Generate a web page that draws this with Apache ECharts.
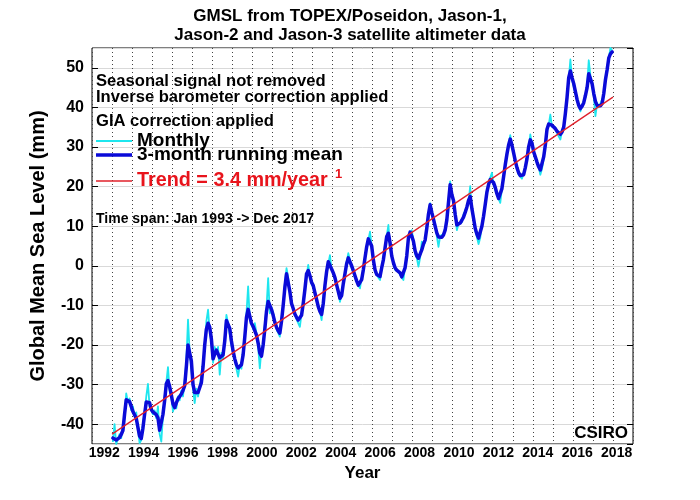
<!DOCTYPE html>
<html>
<head>
<meta charset="utf-8">
<script src="https://cdn.jsdelivr.net/npm/echarts@6/dist/echarts.min.js"></script>
<style>
html,body{margin:0;padding:0;background:#fff;}
#chart{width:700px;height:500px;}
</style>
</head>
<body>
<div id="chart"></div>
<script>
// ---------- data ----------
const dataYears = [1993,1994,1995,1996,1997,1998,1999,2000,2001,2002,2003,2004,2005,
                   2006,2007,2008,2009,2010,2011,2012,2013,2014,2015,2016,2017];

// monthly GMSL (mm), Jan..Dec for each year
const monthlyGMSL = [
 -44.5,-40.0,-45.0,-45.2,-42.5,-43.5,-40.0,-38.5,-32.2,-34.5,-33.5,-36.5,
 -35.5,-38.0,-37.0,-41.0,-44.8,-44.0,-40.0,-37.0,-33.0,-29.8,-35.5,-36.0,
 -37.5,-36.5,-38.5,-35.5,-42.5,-44.4,-38.0,-33.0,-29.5,-25.6,-31.5,-33.0,
 -36.8,-35.0,-36.0,-33.0,-34.0,-31.5,-33.0,-29.0,-24.0,-13.6,-22.0,-26.0,
 -31.0,-34.7,-31.0,-33.0,-30.5,-30.0,-24.5,-20.5,-14.0,-11.1,-16.5,-19.5,
 -24.5,-20.5,-22.0,-20.5,-27.5,-22.0,-23.5,-18.0,-12.4,-14.5,-15.0,-20.0,
 -22.0,-23.0,-26.0,-28.0,-25.0,-26.0,-21.0,-17.5,-12.0,-5.2,-13.5,-13.0,
 -16.0,-14.5,-17.0,-20.5,-25.9,-21.0,-19.5,-15.0,-10.5,-3.1,-12.0,-10.5,
 -12.0,-14.0,-16.0,-16.0,-17.9,-13.5,-10.0,-4.5,-0.6,-3.0,-7.0,-9.0,
 -11.0,-12.0,-13.5,-13.0,-15.4,-12.0,-9.0,-5.5,-2.5,0.2,-2.5,-4.5,
 -5.5,-6.5,-9.0,-10.0,-11.5,-13.7,-9.0,-4.5,-1.0,0.5,2.7,-1.0,
 -2.0,-3.5,-4.5,-6.5,-9.1,-7.0,-4.0,-2.5,1.0,3.2,1.5,-0.5,
 -1.0,-3.0,-3.5,-5.0,-5.7,-3.0,-1.5,2.5,4.5,6.5,8.6,5.0,
 2.0,-1.5,-2.0,-3.0,-3.6,-0.5,2.0,4.0,7.5,10.3,5.0,2.5,
 1.0,-1.0,-0.5,-1.5,-1.5,-3.0,-3.6,0.0,2.0,7.0,8.0,9.0,
 6.5,3.0,2.0,-0.2,2.0,6.1,5.0,6.0,10.0,13.0,15.8,13.0,
 12.0,10.5,7.5,4.8,7.5,7.0,8.0,9.5,11.0,16.5,21.3,17.5,
 16.0,13.5,9.0,10.5,11.0,11.0,13.0,13.0,15.0,16.0,20.1,14.0,
 12.5,9.0,8.5,5.5,7.0,10.5,12.0,16.0,18.0,21.0,21.5,23.5,
 20.5,20.0,18.0,17.5,15.9,19.5,22.0,26.0,28.0,30.5,33.0,30.0,
 29.0,26.0,25.0,23.0,23.0,22.0,23.5,24.5,27.5,29.5,33.2,30.5,
 28.5,27.0,26.5,25.0,23.0,24.5,27.0,31.0,34.0,35.5,38.2,35.0,
 35.5,35.0,33.5,34.0,31.9,34.0,35.0,38.0,43.0,47.0,52.1,47.0,
 46.5,43.5,42.0,40.5,39.0,40.5,41.5,42.5,45.5,51.9,48.0,45.5,
 43.0,37.8,41.0,40.0,41.0,40.5,43.0,47.5,49.0,52.5,55.0,54.5
];

// 3-month running mean (mm), Jan..Dec for each year
const runningMeanGMSL = [
 -43.5,-43.8,-44.0,-44.0,-43.4,-42.6,-41.6,-37.5,-33.8,-33.5,-34.3,-35.5,
 -36.8,-37.2,-38.5,-40.8,-43.0,-43.6,-41.0,-37.5,-34.4,-34.2,-34.6,-36.3,
 -36.9,-37.0,-37.6,-38.4,-41.5,-41.6,-37.5,-34.0,-29.8,-29.0,-30.5,-32.6,
 -34.9,-35.8,-34.6,-33.6,-33.0,-32.4,-31.5,-30.3,-25.5,-20.0,-20.5,-24.0,
 -30.0,-32.0,-32.3,-32.0,-31.5,-29.5,-25.5,-20.0,-16.0,-14.5,-15.5,-18.5,
 -23.5,-22.3,-21.3,-21.8,-23.2,-23.4,-22.5,-19.0,-13.8,-13.5,-15.8,-19.0,
 -21.5,-23.5,-25.0,-25.8,-26.1,-25.0,-22.5,-18.0,-13.0,-11.0,-11.5,-14.5,
 -15.3,-15.5,-17.5,-19.5,-22.0,-22.8,-20.0,-16.0,-11.5,-9.0,-9.5,-11.0,
 -12.5,-14.3,-15.5,-16.4,-17.0,-14.0,-10.0,-5.5,-2.0,-2.5,-6.5,-9.5,
 -10.8,-12.2,-13.0,-13.7,-14.1,-12.5,-9.5,-6.0,-2.0,-1.2,-2.5,-4.2,
 -5.0,-6.8,-8.5,-10.3,-11.5,-12.3,-9.5,-5.0,-1.5,1.0,1.2,-0.8,
 -1.8,-3.0,-4.8,-6.5,-8.2,-7.5,-4.5,-2.0,0.5,2.0,1.6,0.0,
 -1.2,-2.5,-3.8,-4.9,-5.3,-3.5,-1.0,2.0,4.8,6.8,7.0,5.0,
 1.5,-1.0,-2.2,-2.6,-2.7,-0.5,1.5,4.5,7.4,8.2,5.8,2.5,
 0.8,-0.5,-1.1,-1.0,-1.8,-2.8,-3.0,-0.5,2.5,7.0,8.5,7.5,
 6.2,3.8,2.5,1.9,1.6,4.0,5.5,6.5,9.5,13.0,15.4,13.5,
 11.8,10.0,8.3,7.3,6.9,7.2,7.8,9.0,11.6,16.0,20.5,18.0,
 16.5,13.0,10.3,10.2,10.8,11.5,12.3,13.5,14.8,16.5,17.5,14.5,
 12.0,9.5,8.0,7.0,7.5,10.0,12.5,15.5,18.6,20.5,21.8,22.0,
 21.0,19.8,18.2,17.0,17.2,19.5,22.5,25.5,28.2,30.5,32.0,30.5,
 28.5,26.5,24.8,23.5,22.8,22.3,23.0,24.8,27.0,30.0,31.8,31.0,
 28.8,27.5,26.2,25.0,24.2,24.5,27.5,30.5,34.5,35.8,36.0,35.5,
 35.0,34.6,34.0,33.5,33.2,33.8,35.0,38.5,42.5,47.5,49.2,47.5,
 46.0,44.0,42.0,40.5,39.7,40.3,41.2,43.0,45.0,48.5,48.8,46.0,
 43.5,41.5,40.5,40.7,40.4,41.0,43.5,47.0,49.5,52.5,53.5,54.0
];

// linear trend end points
const trendYears = [1993.0, 2018.0];
const trendValues = [-42.5, 42.6];

// axis tick labels
const xTickYears = [1992,1994,1996,1998,2000,2002,2004,2006,2008,2010,2012,2014,2016,2018];

// ---------- build ----------
const FONT = 'Liberation Sans, Arial, Helvetica, sans-serif';
const monthTime = (i) => dataYears[Math.floor(i / 12)] + ((i % 12) + 0.5) / 12;
const monthlyData = monthlyGMSL.map((v, i) => [monthTime(i), v]);
const meanData = runningMeanGMSL.map((v, i) => [monthTime(i), v]);
const trendData = trendYears.map((t, i) => [t, trendValues[i]]);

const legendBase = {
  left: 96, padding: 0, itemWidth: 36, itemGap: 0, icon: 'rect',
  selectedMode: false, orient: 'vertical'
};

const chart = echarts.init(document.getElementById('chart'), null, {renderer: 'canvas'});
chart.setOption({
  animation: false,
  backgroundColor: '#fff',
  title: {
    text: 'GMSL from TOPEX/Poseidon, Jason-1,\nJason-2 and Jason-3 satellite altimeter data',
    left: 350, top: 7, textAlign: 'center', padding: 0,
    textStyle: {fontFamily: FONT, fontSize: 17, fontWeight: 'bold', color: '#000', lineHeight: 19}
  },
  grid: {left: 92, top: 48, width: 541, height: 396, show: true,
         borderColor: '#000', borderWidth: 1, backgroundColor: 'transparent'},
  legend: [
    Object.assign({}, legendBase, {top: 131, data: ['Monthly'], itemHeight: 2,
      textStyle: {fontFamily: FONT, fontSize: 19, fontWeight: 'bold', color: '#000', lineHeight: 20}}),
    Object.assign({}, legendBase, {top: 145, data: ['3-month running mean'], itemHeight: 3.5,
      textStyle: {fontFamily: FONT, fontSize: 19, fontWeight: 'bold', color: '#000', lineHeight: 20}}),
    Object.assign({}, legendBase, {top: 171, data: ['Trend = 3.4 mm/year'], itemHeight: 1.3,
      textStyle: {fontFamily: FONT, fontSize: 19.8, fontWeight: 'bold', color: '#e8141c', lineHeight: 20}})
  ],
  xAxis: [
    {
      type: 'value', min: 1992, max: 2019, interval: 1, position: 'top',
      axisLine: {show: false}, axisTick: {show: false}, axisLabel: {show: false},
      splitLine: {show: true, lineStyle: {color: '#444', width: 1, type: [1, 3]}}
    },
    {
      type: 'value', min: 1991.38, max: 2018.83, position: 'bottom',
      axisLine: {show: false}, axisTick: {show: false}, splitLine: {show: false},
      axisLabel: {customValues: xTickYears, formatter: (v) => String(Math.round(v)),
                  fontFamily: FONT, fontSize: 14, fontWeight: 'bold', color: '#000', margin: 2},
      name: 'Year', nameLocation: 'middle', nameGap: 12,
      nameTextStyle: {fontFamily: FONT, fontSize: 17, fontWeight: 'bold', color: '#000'}
    }
  ],
  yAxis: [
    {
      type: 'value', min: -45, max: 55, splitNumber: 10, position: 'left',
      axisLine: {show: false},
      axisTick: {show: true, inside: true, length: 6, lineStyle: {color: '#000'}},
      axisLabel: {showMinLabel: false, showMaxLabel: false, fontFamily: FONT, fontSize: 16,
                  fontWeight: 'bold', color: '#000', margin: 8},
      splitLine: {show: true, lineStyle: {color: '#d9d9d9', width: 1}},
      name: 'Global Mean Sea Level (mm)', nameLocation: 'middle', nameGap: 44,
      nameTextStyle: {fontFamily: FONT, fontSize: 20, fontWeight: 'bold', color: '#000'}
    },
    {
      type: 'value', min: -45, max: 55, splitNumber: 10, position: 'right',
      axisLine: {show: false},
      axisTick: {show: true, inside: true, length: 6, lineStyle: {color: '#000'}},
      axisLabel: {show: false}, splitLine: {show: false}
    }
  ],
  series: [
    {
      name: 'Monthly', type: 'line', xAxisIndex: 0, yAxisIndex: 0, data: monthlyData,
      symbol: 'none', color: '#1ee6ee',
      lineStyle: {width: 1.8, color: '#1ee6ee', join: 'round'}
    },
    {
      name: '3-month running mean', type: 'line', xAxisIndex: 0, yAxisIndex: 0, data: meanData,
      symbol: 'none', color: '#0a0ad8',
      lineStyle: {width: 3.5, color: '#0a0ad8', join: 'round', cap: 'round'}
    },
    {
      name: 'Trend = 3.4 mm/year', type: 'line', xAxisIndex: 0, yAxisIndex: 0, data: trendData,
      symbol: 'none', color: '#e0202a',
      lineStyle: {width: 1.3, color: '#e0202a'}
    }
  ],
  graphic: [
    {type: 'text', x: 96, y: 81, style: {text: 'Seasonal signal not removed', fontFamily: FONT,
      fontSize: 16.6, fontWeight: 'bold', fill: '#000', align: 'left', verticalAlign: 'middle'}},
    {type: 'text', x: 96, y: 97, style: {text: 'Inverse barometer correction applied', fontFamily: FONT,
      fontSize: 16.6, fontWeight: 'bold', fill: '#000', align: 'left', verticalAlign: 'middle'}},
    {type: 'text', x: 96, y: 121, style: {text: 'GIA correction applied', fontFamily: FONT,
      fontSize: 16.6, fontWeight: 'bold', fill: '#000', align: 'left', verticalAlign: 'middle'}},
    {type: 'text', x: 335, y: 174, style: {text: '1', fontFamily: FONT,
      fontSize: 13, fontWeight: 'bold', fill: '#e8141c', align: 'left', verticalAlign: 'middle'}},
    {type: 'text', x: 96, y: 219, style: {text: 'Time span: Jan 1993 -> Dec 2017', fontFamily: FONT,
      fontSize: 14, fontWeight: 'bold', fill: '#000', align: 'left', verticalAlign: 'middle'}},
    {type: 'text', x: 628, y: 433, style: {text: 'CSIRO', fontFamily: FONT,
      fontSize: 17, fontWeight: 'bold', fill: '#000', align: 'right', verticalAlign: 'middle'}}
  ]
});
</script>
</body>
</html>
